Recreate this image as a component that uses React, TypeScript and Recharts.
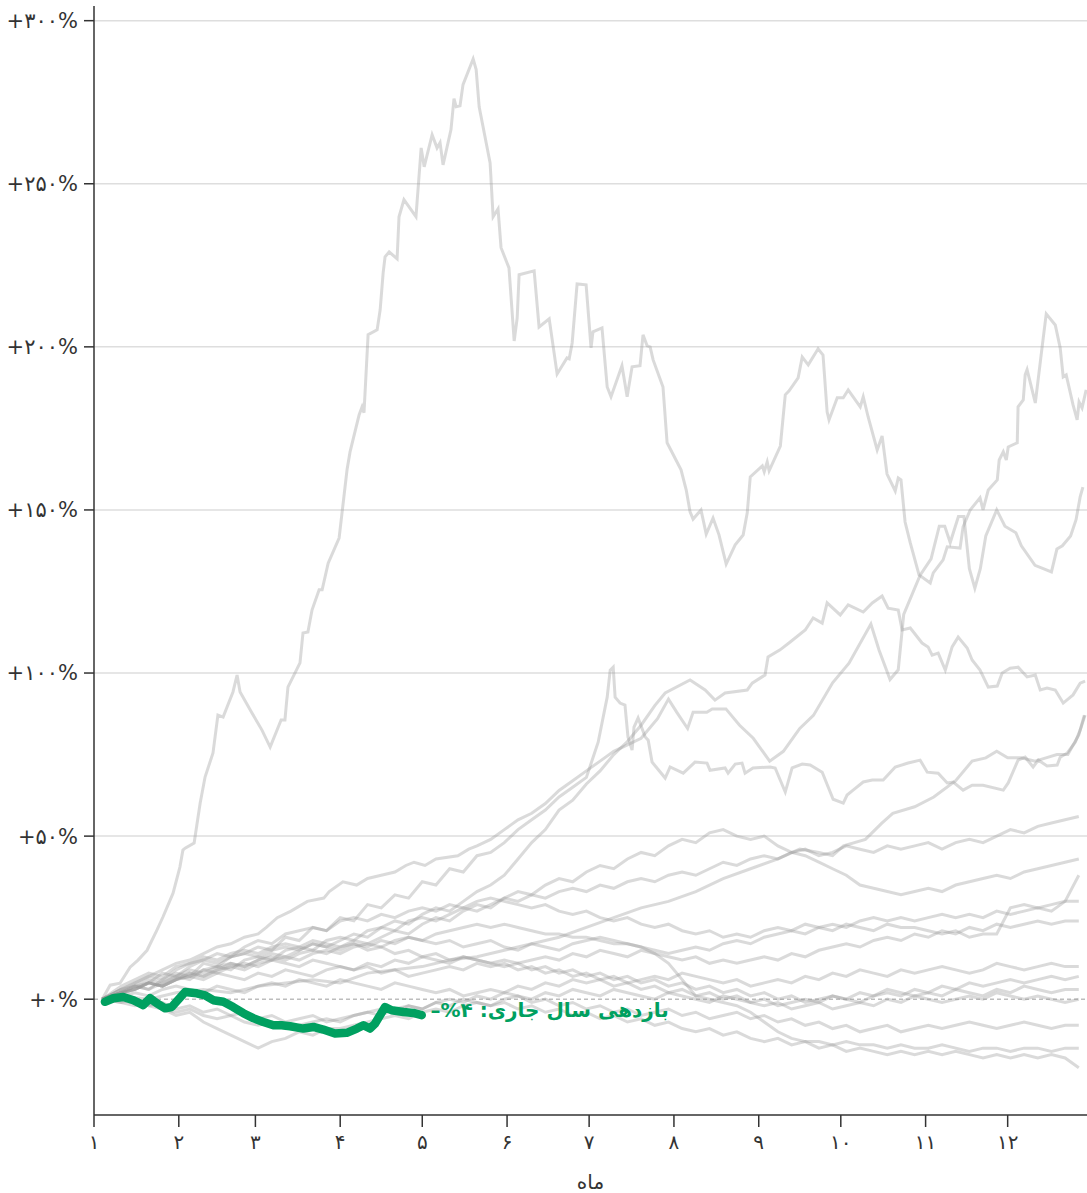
import { LineChart, Line, XAxis, YAxis, ReferenceLine, ReferenceDot } from "recharts";

// month starts (day of year) and their Persian labels
const monthTicks = [0, 31, 59, 90, 120, 151, 181, 212, 243, 273, 304, 334];
const monthLabels = ["۱", "۲", "۳", "۴", "۵", "۶", "۷", "۸", "۹", "۱۰", "۱۱", "۱۲"];
const yTicks = [0, 50, 100, 150, 200, 250, 300];
const gridLines = [50, 100, 150, 200, 250, 300];

// shared day grid for the past years read every 5 days
const gridDays = [3, ...Array.from({ length: 71 }, (_, i) => 10 + i * 5)];

// past years traced point by point: [day, return %]
const yearA: [number, number][] = [
  [3, 0], [5.9, 4.3], [9.5, 4.9], [13.2, 9.8], [16.1, 12], [19.4, 15], [23, 21.2], [25.2, 25.2], [28.9, 32.5],
  [31.4, 40.5], [32.5, 45.7], [33.3, 46.3], [36.6, 47.9], [38.8, 60.1], [40.6, 68.1], [43.5, 75.5], [45.3, 87.1],
  [47.2, 86.5], [50.8, 94.2], [52.3, 99.4], [53.4, 94.2], [57.8, 87.7], [61.4, 82.5], [64.4, 77.3], [68.4, 85.6],
  [69.8, 85.6], [70.9, 95.7], [75.3, 103.1], [76.4, 112.3], [78.2, 112.6], [79.7, 119.3], [82.3, 125.5],
  [83.4, 125.5], [85.6, 133.7], [89.6, 141.4], [92.5, 162.3], [93.6, 167.8], [96.9, 179.1], [98, 181.6],
  [98.7, 179.8], [100.2, 203.7], [103.5, 205.2], [104.6, 211.3], [105.7, 222.7], [106.4, 227.6], [107.9, 229.1],
  [110.8, 227], [111.5, 239.9], [113.3, 245.1], [117.7, 239.9], [119.6, 261], [120.7, 255.2], [123.6, 265],
  [125.4, 261], [126.5, 262.6], [127.6, 255.8], [130.5, 266.6], [131.6, 276.1], [132.4, 273.6], [133.8, 273.9],
  [134.9, 280.4], [138.6, 288.3], [139.7, 285], [140.8, 273.6], [144.8, 256.4], [145.9, 239.9], [147.7, 242.3],
  [148.8, 230.4], [151.7, 224.2], [153.6, 201.8], [154.7, 208.9], [155.4, 222.1], [160.9, 223.3], [162.7, 206.1],
  [166.4, 208.6], [169.3, 191.7], [172.9, 196.6], [173.7, 196.3], [174.8, 201.2], [176.6, 219.3], [179.9, 219],
  [181.7, 199.7], [182.4, 204.6], [185.7, 205.8], [187.6, 187.7], [189, 184.7], [193, 194.2], [194.9, 184.7],
  [196.7, 193.9], [199.6, 194.2], [200.7, 203.7], [202.2, 200.3], [203.3, 200], [204.4, 196], [208, 187.7],
  [209.5, 170.6], [214.6, 162.3], [216.5, 156.1], [217.9, 149.4], [219, 147.2], [221.9, 150], [223.8, 142.6],
  [226.3, 147.5], [228.5, 142.3], [231.1, 133.4], [234.4, 139.3], [237.3, 142.3], [238.8, 149.1], [239.9, 160.1],
  [244.3, 163.5], [245, 161.7], [246.1, 164.7], [246.8, 162], [250.9, 169.6], [252.7, 185.3], [254.1, 186.5],
  [257.4, 190.5], [258.9, 196.9], [261.1, 194.5], [264.7, 199.4], [266.5, 197.5], [268, 180.1], [268.7, 177.6],
  [271.7, 184.4], [273.9, 184.4], [275.7, 186.8], [280.1, 181.6], [281.2, 184.7], [283, 178.5], [286.3, 168.4],
  [288.1, 172.7], [289.9, 161], [292.9, 155.8], [294, 159.8], [295, 159.2], [296.5, 146.3], [298.4, 139.9],
  [301.6, 130.1], [305.7, 127.6], [306.8, 130.7], [310.4, 134.7], [311.9, 138.7], [316.6, 138.3], [317.7, 144.8],
  [320.3, 150], [323.9, 153.7], [325, 150], [326.9, 156.1], [330.2, 159.2], [330.9, 165.3], [332.4, 167.8],
  [333.5, 165.3], [334.2, 169.3], [337.5, 170.6], [337.8, 181.6], [339.7, 183.7], [340.4, 191.4], [341.1, 193],
  [344.1, 182.8], [346.6, 200], [348.1, 210.1], [351.4, 206.7], [353.2, 199.7], [354.3, 190.8], [355.4, 191.4],
  [357.9, 182.2], [359.4, 177.6], [360.1, 183.1], [361.2, 181.3], [362.7, 186.8],
];

const yearB: [number, number][] = [
  [3, 0], [10, 3], [15, 5], [20, 7], [25, 9], [30, 11], [35, 12], [40, 14], [45, 16], [50, 17], [55, 19],
  [60, 20], [63, 22], [67, 25], [72, 27], [78, 30], [84, 31], [86, 33], [91, 36], [96, 35], [100, 37],
  [105, 38], [110, 39], [114, 41], [117, 42], [121, 41], [125, 43], [133, 44], [137, 46], [140, 47], [145, 49],
  [150, 52], [155, 55], [160, 57], [165, 60], [170, 64], [175, 67], [180, 70], [185, 73], [190, 76], [195, 78],
  [200, 80], [206, 86], [210, 92], [213, 88], [217, 83], [219, 88], [224, 88], [226, 89], [231, 89], [236, 84],
  [241, 80], [247, 73], [252, 76], [258, 83], [263, 87], [270, 97], [276, 103], [284, 115], [287, 107],
  [291, 98], [294, 101], [296, 118], [302, 130], [306, 135], [309, 145], [311, 145], [313, 140], [316, 148],
  [318, 148], [320, 132], [322, 126], [324, 132], [326, 142], [330, 150], [333, 145], [337, 143], [339, 139],
  [344, 133], [350, 131], [352, 138], [354, 139], [357, 142], [359, 147], [360.5, 154], [361.5, 157],
];

const yearC: [number, number][] = [
  [3, 0], [10, 2], [15, 3], [20, 5], [25, 4], [30, 6], [35, 8], [40, 7], [45, 9], [50, 11], [55, 10], [60, 12],
  [65, 14], [70, 13], [75, 15], [80, 17], [85, 16], [90, 18], [95, 20], [100, 19], [105, 22], [110, 24],
  [115, 23], [120, 26], [125, 28], [130, 27], [135, 30], [140, 33], [145, 35], [150, 38], [155, 43], [160, 48],
  [165, 52], [170, 58], [175, 61], [180, 66], [185, 70], [190, 75], [195, 79], [200, 84], [205, 90],
  [208.8, 93.9], [217.9, 97.9], [223.4, 94.8], [227, 91.7], [230.7, 93.9], [238.8, 94.8], [240.6, 96.9],
  [245.3, 99.4], [246.4, 104.9], [250.8, 107.1], [254.5, 109.5], [260, 113.2], [262.9, 116.9], [266.2, 115.3],
  [268, 121.5], [272.8, 117.8], [275.7, 120.9], [281.2, 118.7], [284.5, 121.5], [288.1, 123.6], [290.3, 119.9],
  [294, 119.3], [295.4, 113.2], [298.4, 113.8], [302.7, 109.2], [304.9, 108], [306.4, 105.5], [308.6, 106.1],
  [311.2, 100.9], [313.7, 108], [315.9, 111], [319.2, 107.7], [321, 104], [323.9, 100.9], [326.9, 95.7],
  [330.2, 96], [332, 100], [334.9, 101.5], [337.8, 101.8], [341.1, 98.8], [344.1, 99.4], [345.9, 94.8],
  [348.4, 95.4], [351.4, 94.8], [354.3, 90.8], [357.9, 93.3], [360.5, 96.9], [362.3, 97.5],
];

const yearP: [number, number][] = [
  [3, 0], [10, 2], [15, 4], [20, 3], [25, 6], [30, 8], [35, 7], [40, 11], [45, 10], [50, 13], [55, 14],
  [60, 16], [65, 15], [70, 19], [75, 18], [80, 22], [85, 21], [90, 25], [95, 24], [100, 29], [105, 28],
  [110, 32], [115, 31], [120, 36], [125, 35], [130, 40], [135, 39], [140, 44], [145, 45], [150, 48], [155, 52],
  [160, 55], [165, 58], [170, 62], [175, 65], [180, 68], [184.3, 78.8], [187.6, 92.6], [188.7, 100.9],
  [189.8, 101.8], [190.5, 92.6], [192.3, 90.8], [194.1, 90.2], [195.2, 80.4], [196.7, 76.4], [197.4, 83.4],
  [198.9, 86.2], [201.5, 80.4], [202.6, 79.4], [204, 72.7], [208.8, 67.8], [210.6, 71.2], [215.4, 69.3],
  [219.7, 72.7], [224.1, 72.4], [225.2, 70.2], [230.7, 70.9], [231.8, 69.3], [234.4, 72.1], [236.9, 72.4],
  [238, 69.3], [240.9, 70.9], [247.2, 71.2], [249, 70.9], [252.7, 63.5], [255.2, 70.9], [258.9, 72.1],
  [261.8, 71.8], [266.2, 69.6], [270.2, 61.3], [273.9, 60.1], [275.3, 62.6], [277.5, 64.1], [281.2, 66.6],
  [284.5, 67.2], [288.5, 67.2], [292.9, 71.2], [297.6, 72.4], [302, 73.3], [304.6, 69.6], [308.6, 69.3],
  [311.9, 66.3], [314.1, 66.6], [317.7, 64.1], [321, 65.6], [325, 65.6], [332.4, 64.1], [334.2, 66.3],
  [337.8, 73.3], [340.4, 74.2], [343.3, 71.2], [345.2, 73.3], [348.4, 71.5], [352.1, 71.8], [353.2, 74.2],
  [355.8, 75.5], [358.7, 78.8], [360.5, 82.5], [362.3, 87.1],
];

const yearE: [number, number][] = [
  [3, 0], [10, 1], [20, 0], [30, 2], [40, 3], [50, 2], [60, 4], [70, 5], [80, 6], [90, 5], [100, 8], [110, 9],
  [120, 10], [130, 12], [140, 13], [150, 15], [160, 17], [170, 19], [180, 22], [190, 25], [200, 28], [210, 30],
  [220, 33], [230, 37], [240, 40], [250, 43], [258, 46], [265, 45], [270, 44], [274, 47], [282, 49], [288, 54],
  [292, 57], [300, 59], [307, 62], [315, 67], [321, 73], [326, 74], [330, 76], [334, 74], [339, 74], [344, 73],
  [348, 74], [352, 75], [356, 75], [360, 81], [362, 87],
];

// past years read on the 5-day grid
const yearF = [0, 2, 4, 3, 5, 7, 6, 9, 10, 9, 12, 13, 12, 15, 16, 15, 18, 19, 18, 21, 22, 21, 24, 25, 24, 26, 28, 27, 29, 31, 30, 32, 31, 33, 34, 33, 35, 34, 36, 37, 36, 38, 39, 38, 40, 42, 41, 43, 44, 43, 45, 46, 44, 45, 47, 46, 45, 47, 46, 47, 48, 46, 48, 49, 48, 50, 52, 51, 53, 54, 55, 56];
const yearG = [0, 3, 4, 6, 5, 7, 9, 8, 10, 11, 10, 12, 13, 12, 14, 15, 14, 16, 18, 17, 19, 21, 20, 23, 25, 24, 27, 29, 28, 31, 33, 32, 35, 37, 36, 39, 41, 40, 43, 45, 44, 47, 49, 48, 51, 52, 50, 49, 50, 47, 45, 44, 42, 40, 38, 35, 34, 33, 32, 33, 34, 33, 35, 36, 37, 38, 37, 39, 40, 41, 42, 43];
const yearH = [0, 2, 4, 5, 8, 7, 10, 12, 11, 13, 14, 13, 15, 16, 15, 17, 16, 15, 17, 16, 18, 17, 19, 18, 17, 18, 16, 17, 18, 16, 15, 17, 16, 15, 17, 18, 19, 18, 17, 16, 15, 14, 15, 16, 15, 17, 18, 17, 19, 20, 21, 20, 22, 23, 22, 24, 25, 24, 25, 24, 25, 26, 25, 26, 25, 27, 26, 27, 28, 27, 30, 38];
const yearI = [0, 3, 5, 7, 6, 9, 11, 12, 14, 13, 16, 18, 17, 20, 21, 22, 21, 24, 25, 24, 26, 25, 27, 28, 27, 29, 28, 30, 31, 30, 29, 28, 29, 27, 26, 27, 25, 24, 25, 23, 22, 23, 21, 20, 21, 19, 20, 19, 21, 22, 21, 23, 22, 21, 23, 22, 21, 23, 22, 22, 21, 20, 21, 19, 20, 20, 28, 29, 28, 29, 30, 30];
const yearJ = [0, 4, 6, 8, 7, 10, 11, 13, 12, 14, 15, 14, 16, 17, 16, 18, 17, 16, 17, 15, 16, 14, 15, 13, 14, 12, 13, 12, 11, 12, 11, 12, 13, 12, 14, 13, 15, 14, 13, 15, 14, 13, 12, 13, 11, 12, 11, 12, 13, 12, 14, 13, 15, 16, 17, 16, 18, 19, 18, 20, 19, 21, 20, 22, 21, 23, 22, 23, 24, 23, 24, 24];
const yearK = [0, 2, 3, 5, 4, 6, 8, 7, 9, 10, 9, 11, 12, 11, 10, 12, 11, 10, 9, 10, 8, 9, 7, 8, 9, 10, 9, 11, 10, 11, 9, 10, 8, 9, 7, 8, 6, 7, 5, 6, 7, 6, 8, 7, 6, 5, 6, 4, 5, 6, 5, 7, 6, 8, 7, 9, 8, 7, 9, 8, 9, 10, 9, 8, 9, 11, 10, 9, 10, 11, 10, 10];
const yearL = [0, 1, 2, 1, 3, 4, 3, 2, 4, 3, 2, 4, 5, 4, 6, 5, 4, 6, 5, 4, 3, 5, 4, 3, 2, 3, 1, 2, 3, 2, 4, 3, 5, 4, 6, 5, 6, 4, 5, 3, 4, 2, 3, 1, 2, 0, 1, -1, 0, -2, -1, 0, -1, 1, 0, -1, 1, 2, 1, 3, 2, 4, 3, 5, 4, 5, 6, 5, 6, 7, 6, 7];
const yearM = [0, 1, 0, -2, -3, -5, -4, -7, -9, -11, -13, -15, -13, -12, -10, -11, -9, -9, -8, -7, -6, -5, -6, -4, -3, -4, -2, -1, -2, 0, 1, 0, 2, 1, 3, 2, 1, 3, 2, 1, 0, 2, 1, 0, -1, 1, 0, -1, -2, -1, -3, -2, -1, -3, -2, -1, -2, 0, -1, 1, 0, -1, 0, 1, 0, 2, 1, 0, 1, 0, -1, 0];
const yearN = [0, -1, -2, -1, -3, -4, -3, -5, -6, -5, -7, -8, -7, -9, -8, -7, -6, -7, -5, -4, -5, -3, -2, -3, -1, 0, -1, 1, 0, 2, 1, -1, 0, -2, -1, -3, -2, -4, -3, -5, -4, -3, -5, -4, -6, -5, -4, -6, -5, -7, -6, -8, -7, -9, -8, -10, -9, -8, -10, -9, -8, -9, -8, -7, -8, -9, -8, -7, -8, -9, -8, -8];
const yearO = [0, 2, 3, 5, 4, 6, 7, 9, 8, 10, 11, 10, 12, 13, 12, 14, 15, 14, 16, 17, 16, 18, 19, 18, 20, 21, 22, 23, 22, 23, 22, 21, 20, 20, 19, 19, 18, 17, 17, 16, 14, 11, 6, 1, 0, -1, -2, -4, -7, -10, -12, -13, -13, -14, -13, -14, -14, -15, -14, -15, -15, -14, -15, -16, -15, -15, -16, -15, -15, -16, -15, -15];
const yearQ = [0, -1, 0, -2, -1, -3, -2, -4, -3, -5, -4, -6, -5, -7, -6, -5, -7, -6, -5, -4, -3, -4, -2, -3, -1, -2, 0, -1, -2, -1, -3, -2, -4, -3, -5, -4, -6, -5, -7, -6, -8, -7, -9, -10, -9, -11, -10, -12, -13, -12, -14, -13, -15, -14, -16, -15, -16, -17, -16, -17, -16, -17, -16, -17, -18, -17, -18, -17, -18, -17, -18, -21];
const yearR = [0, 2, 3, 5, 4, 6, 7, 6, 8, 7, 6, 8, 7, 9, 8, 7, 9, 10, 9, 11, 10, 12, 11, 13, 12, 11, 13, 12, 11, 10, 11, 9, 10, 8, 9, 7, 8, 6, 7, 5, 6, 4, 5, 3, 4, 2, 3, 1, 2, 0, 1, -1, 0, 1, 0, 2, 1, 3, 2, 1, 2, 1, 3, 2, 1, 3, 2, 4, 3, 2, 3, 3];

// current year so far
const currentYear: [number, number][] = [
  [4, -0.8], [7.1, 0.3], [10.7, 0.7], [14.4, -0.3], [18, -1.8], [20.5, 0.3], [22.9, -1.2], [26, -2.8],
  [28.4, -2.4], [33.3, 2.2], [37.6, 1.8], [40.6, 1.2], [43.6, -0.3], [47.3, -0.8], [50.9, -2.4], [54.6, -4.3],
  [58.2, -5.8], [61.9, -7], [65.6, -8], [68.6, -8], [71.7, -8.3], [76.5, -9], [80.2, -8.5], [83.8, -9.3],
  [88.1, -10.5], [92.4, -10.3], [96.1, -9], [98.5, -8], [100.9, -9], [102.7, -7.5], [106.4, -2.4],
  [108.8, -3.4], [113.1, -3.9], [116.7, -4.2], [119.8, -4.9],
];

const tracedYears: Record<string, [number, number][]> = { a: yearA, b: yearB, c: yearC, p: yearP, e: yearE };
const griddedYears: Record<string, number[]> = {
  f: yearF, g: yearG, h: yearH, i: yearI, j: yearJ, k: yearK, l: yearL, m: yearM, n: yearN, o: yearO, q: yearQ, r: yearR,
};

const rows = new Map<number, Record<string, number>>();
const put = (d: number, key: string, v: number) => {
  const row = rows.get(d) ?? { d };
  row[key] = v;
  rows.set(d, row);
};
Object.entries(tracedYears).forEach(([key, pts]) => pts.forEach(([d, v]) => put(d, key, v)));
Object.entries(griddedYears).forEach(([key, vals]) => vals.forEach((v, i) => put(gridDays[i], key, v)));
currentYear.forEach(([d, v]) => put(d, "now", v));
const data = Array.from(rows.values()).sort((a, b) => a.d - b.d);

const greyKeys = [...Object.keys(griddedYears), ...Object.keys(tracedYears)];

const toFa = (n: number) => String(n).replace(/\d/g, (c) => "۰۱۲۳۴۵۶۷۸۹"[Number(c)]);

const FONT = "'DejaVu Sans', sans-serif";
const GREEN = "#00a060";

const App = () => {
  return (
    <div style={{ position: "absolute", left: 0, top: 0, fontFamily: FONT }}>
      <LineChart width={1087} height={1193} data={data} margin={{ top: 6, right: 0, left: 0, bottom: 0 }}>
        {gridLines.map((g) => (
          <ReferenceLine key={g} y={g} stroke="#dedede" strokeWidth={1.5} />
        ))}
        <ReferenceLine y={0} stroke="#bdbdbd" strokeWidth={1.5} strokeDasharray="4 3" />
        <XAxis
          type="number"
          dataKey="d"
          domain={[0, 363]}
          ticks={monthTicks}
          tickFormatter={(v: number) => monthLabels[monthTicks.indexOf(v)]}
          height={78}
          tickSize={12}
          tickMargin={8}
          stroke="#333"
          strokeWidth={1.5}
          tick={{ fontSize: 20, fill: "#333", fontFamily: FONT }}
          label={{ value: "ماه", position: "insideBottom", offset: 4, fontSize: 20, fill: "#333", fontFamily: FONT }}
        />
        <YAxis
          type="number"
          domain={[-35.5, 304.5]}
          ticks={yTicks}
          tickFormatter={(v: number) => `+${toFa(v)}%`}
          width={94}
          tickSize={10}
          tickMargin={6}
          stroke="#333"
          strokeWidth={1.5}
          tick={{ fontSize: 21, fill: "#333", fontFamily: FONT }}
          allowDataOverflow
        />
        {greyKeys.map((k) => (
          <Line
            key={k}
            dataKey={k}
            stroke="#999"
            strokeOpacity={0.36}
            strokeWidth={3}
            dot={false}
            connectNulls
            isAnimationActive={false}
          />
        ))}
        <Line
          dataKey="now"
          stroke={GREEN}
          strokeWidth={8.5}
          strokeLinecap="round"
          strokeLinejoin="round"
          dot={false}
          connectNulls
          isAnimationActive={false}
        />
        <ReferenceDot
          x={123}
          y={-3.4}
          r={0}
          label={(props: any) => {
            const vb = props.viewBox ?? {};
            const cx = (vb.x ?? 0) + (vb.width ?? 0) / 2;
            const cy = (vb.y ?? 0) + (vb.height ?? 0) / 2;
            return (
              <text x={cx} y={cy} dy="0.35em" fill={GREEN} fontSize={20} fontWeight="bold" fontFamily={FONT} textAnchor="start">
                {"–%۴ :بازدهی سال جاری"}
              </text>
            );
          }}
        />
      </LineChart>
    </div>
  );
};

export default App;
